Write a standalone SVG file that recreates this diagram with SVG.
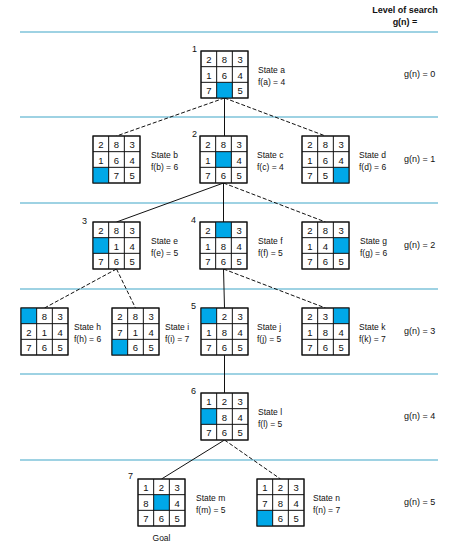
<svg xmlns="http://www.w3.org/2000/svg" width="464" height="547" viewBox="0 0 464 547">
<style>
text{font-family:"Liberation Sans",Arial,sans-serif;fill:#111}
.d{font-size:9.5px;text-anchor:middle}
.lb{font-size:8.5px}
.g{font-size:9px}
.n{font-size:9px}
.h{font-size:9px;font-weight:bold;text-anchor:middle}
.lv{stroke:#3fa6c8;stroke-width:1.2}
.box{fill:#fff;stroke:#111;stroke-width:1}
.bl{fill:#00a8e8}
.cl{stroke:#111;stroke-width:1}
.s{stroke:#111;stroke-width:1;fill:none}
.ds{stroke:#111;stroke-width:1;fill:none;stroke-dasharray:4,2}
</style>
<defs>
<g id="grid">
<rect class="box" x="0" y="0" width="47" height="47"/>
</g>
<g id="glines">
<line class="cl" x1="15.67" y1="0" x2="15.67" y2="47"/>
<line class="cl" x1="31.33" y1="0" x2="31.33" y2="47"/>
<line class="cl" x1="0" y1="15.67" x2="47" y2="15.67"/>
<line class="cl" x1="0" y1="31.33" x2="47" y2="31.33"/>
<rect x="0" y="0" width="47" height="47" fill="none" stroke="#111"/>
</g>
</defs>
<g id="levels">
<text class="h" x="405" y="13">Level of search</text>
<text class="h" x="405" y="25">g(n) =</text>
<line class="lv" x1="20" y1="32" x2="438" y2="32"/>
<line class="lv" x1="20" y1="117" x2="438" y2="117"/>
<line class="lv" x1="20" y1="203" x2="438" y2="203"/>
<line class="lv" x1="20" y1="289" x2="438" y2="289"/>
<line class="lv" x1="20" y1="374" x2="438" y2="374"/>
<line class="lv" x1="20" y1="460" x2="438" y2="460"/>
<text class="g" x="404" y="77">g(n) = 0</text>
<text class="g" x="404" y="162">g(n) = 1</text>
<text class="g" x="404" y="248">g(n) = 2</text>
<text class="g" x="404" y="334">g(n) = 3</text>
<text class="g" x="404" y="419">g(n) = 4</text>
<text class="g" x="404" y="505">g(n) = 5</text>
</g>
<g id="connectors">
<line class="ds" x1="224.5" y1="98" x2="116.5" y2="136"/>
<line class="s" x1="224.5" y1="98" x2="224.5" y2="136"/>
<line class="ds" x1="224.5" y1="98" x2="325.5" y2="136"/>
<line class="s" x1="223.5" y1="183" x2="116.5" y2="222"/>
<line class="s" x1="223.5" y1="183" x2="223.5" y2="222"/>
<line class="ds" x1="223.5" y1="183" x2="325.5" y2="222"/>
<line class="ds" x1="116.5" y1="269" x2="44.5" y2="308"/>
<line class="ds" x1="116.5" y1="269" x2="135.5" y2="308"/>
<line class="s" x1="223.5" y1="269" x2="224.5" y2="308"/>
<line class="ds" x1="223.5" y1="269" x2="325.5" y2="308"/>
<line class="s" x1="224.5" y1="355" x2="224.5" y2="393"/>
<line class="s" x1="224.5" y1="440" x2="161.5" y2="479"/>
<line class="ds" x1="224.5" y1="440" x2="280.5" y2="479"/>
</g>
<g id="state-a" transform="translate(201,51)">
<use href="#grid"/><rect class="bl" x="15.67" y="31.33" width="15.67" height="15.67"/><use href="#glines"/>
<text class="d" x="7.8" y="12">2</text><text class="d" x="23.5" y="12">8</text><text class="d" x="39.2" y="12">3</text>
<text class="d" x="7.8" y="27.6">1</text><text class="d" x="23.5" y="27.6">6</text><text class="d" x="39.2" y="27.6">4</text>
<text class="d" x="7.8" y="43.3">7</text><text class="d" x="39.2" y="43.3">5</text>
<text class="n" x="-9" y="1">1</text>
<text class="lb" x="57" y="22">State a</text><text class="lb" x="57" y="34">f(a) = 4</text>
</g>
<g id="state-b" transform="translate(93,136)">
<use href="#grid"/><rect class="bl" x="0" y="31.33" width="15.67" height="15.67"/><use href="#glines"/>
<text class="d" x="7.8" y="12">2</text><text class="d" x="23.5" y="12">8</text><text class="d" x="39.2" y="12">3</text>
<text class="d" x="7.8" y="27.6">1</text><text class="d" x="23.5" y="27.6">6</text><text class="d" x="39.2" y="27.6">4</text>
<text class="d" x="23.5" y="43.3">7</text><text class="d" x="39.2" y="43.3">5</text>
<text class="lb" x="58" y="22">State b</text><text class="lb" x="58" y="34">f(b) = 6</text>
</g>
<g id="state-c" transform="translate(200,136)">
<use href="#grid"/><rect class="bl" x="15.67" y="15.67" width="15.67" height="15.67"/><use href="#glines"/>
<text class="d" x="7.8" y="12">2</text><text class="d" x="23.5" y="12">8</text><text class="d" x="39.2" y="12">3</text>
<text class="d" x="7.8" y="27.6">1</text><text class="d" x="39.2" y="27.6">4</text>
<text class="d" x="7.8" y="43.3">7</text><text class="d" x="23.5" y="43.3">6</text><text class="d" x="39.2" y="43.3">5</text>
<text class="n" x="-8" y="1">2</text>
<text class="lb" x="57" y="22">State c</text><text class="lb" x="57" y="34">f(c) = 4</text>
</g>
<g id="state-d" transform="translate(302,136)">
<use href="#grid"/><rect class="bl" x="31.33" y="31.33" width="15.67" height="15.67"/><use href="#glines"/>
<text class="d" x="7.8" y="12">2</text><text class="d" x="23.5" y="12">8</text><text class="d" x="39.2" y="12">3</text>
<text class="d" x="7.8" y="27.6">1</text><text class="d" x="23.5" y="27.6">6</text><text class="d" x="39.2" y="27.6">4</text>
<text class="d" x="7.8" y="43.3">7</text><text class="d" x="23.5" y="43.3">5</text>
<text class="lb" x="57" y="22">State d</text><text class="lb" x="57" y="34">f(d) = 6</text>
</g>
<g id="state-e" transform="translate(93,222)">
<use href="#grid"/><rect class="bl" x="0" y="15.67" width="15.67" height="15.67"/><use href="#glines"/>
<text class="d" x="7.8" y="12">2</text><text class="d" x="23.5" y="12">8</text><text class="d" x="39.2" y="12">3</text>
<text class="d" x="23.5" y="27.6">1</text><text class="d" x="39.2" y="27.6">4</text>
<text class="d" x="7.8" y="43.3">7</text><text class="d" x="23.5" y="43.3">6</text><text class="d" x="39.2" y="43.3">5</text>
<text class="n" x="-11" y="2">3</text>
<text class="lb" x="58" y="22">State e</text><text class="lb" x="58" y="34">f(e) = 5</text>
</g>
<g id="state-f" transform="translate(200,222)">
<use href="#grid"/><rect class="bl" x="15.67" y="0" width="15.67" height="15.67"/><use href="#glines"/>
<text class="d" x="7.8" y="12">2</text><text class="d" x="39.2" y="12">3</text>
<text class="d" x="7.8" y="27.6">1</text><text class="d" x="23.5" y="27.6">8</text><text class="d" x="39.2" y="27.6">4</text>
<text class="d" x="7.8" y="43.3">7</text><text class="d" x="23.5" y="43.3">6</text><text class="d" x="39.2" y="43.3">5</text>
<text class="n" x="-9" y="1">4</text>
<text class="lb" x="58" y="22">State f</text><text class="lb" x="58" y="34">f(f) = 5</text>
</g>
<g id="state-g" transform="translate(302,222)">
<use href="#grid"/><rect class="bl" x="31.33" y="15.67" width="15.67" height="15.67"/><use href="#glines"/>
<text class="d" x="7.8" y="12">2</text><text class="d" x="23.5" y="12">8</text><text class="d" x="39.2" y="12">3</text>
<text class="d" x="7.8" y="27.6">1</text><text class="d" x="23.5" y="27.6">4</text>
<text class="d" x="7.8" y="43.3">7</text><text class="d" x="23.5" y="43.3">6</text><text class="d" x="39.2" y="43.3">5</text>
<text class="lb" x="58" y="22">State g</text><text class="lb" x="58" y="34">f(g) = 6</text>
</g>
<g id="state-h" transform="translate(21,308)">
<use href="#grid"/><rect class="bl" x="0" y="0" width="15.67" height="15.67"/><use href="#glines"/>
<text class="d" x="23.5" y="12">8</text><text class="d" x="39.2" y="12">3</text>
<text class="d" x="7.8" y="27.6">2</text><text class="d" x="23.5" y="27.6">1</text><text class="d" x="39.2" y="27.6">4</text>
<text class="d" x="7.8" y="43.3">7</text><text class="d" x="23.5" y="43.3">6</text><text class="d" x="39.2" y="43.3">5</text>
<text class="lb" x="53" y="22">State h</text><text class="lb" x="53" y="34">f(h) = 6</text>
</g>
<g id="state-i" transform="translate(112,308)">
<use href="#grid"/><rect class="bl" x="0" y="31.33" width="15.67" height="15.67"/><use href="#glines"/>
<text class="d" x="7.8" y="12">2</text><text class="d" x="23.5" y="12">8</text><text class="d" x="39.2" y="12">3</text>
<text class="d" x="7.8" y="27.6">7</text><text class="d" x="23.5" y="27.6">1</text><text class="d" x="39.2" y="27.6">4</text>
<text class="d" x="23.5" y="43.3">6</text><text class="d" x="39.2" y="43.3">5</text>
<text class="lb" x="53" y="22">State i</text><text class="lb" x="53" y="34">f(i) = 7</text>
</g>
<g id="state-j" transform="translate(201,308)">
<use href="#grid"/><rect class="bl" x="0" y="0" width="15.67" height="15.67"/><use href="#glines"/>
<text class="d" x="23.5" y="12">2</text><text class="d" x="39.2" y="12">3</text>
<text class="d" x="7.8" y="27.6">1</text><text class="d" x="23.5" y="27.6">8</text><text class="d" x="39.2" y="27.6">4</text>
<text class="d" x="7.8" y="43.3">7</text><text class="d" x="23.5" y="43.3">6</text><text class="d" x="39.2" y="43.3">5</text>
<text class="n" x="-10" y="1">5</text>
<text class="lb" x="56" y="22">State j</text><text class="lb" x="56" y="34">f(j) = 5</text>
</g>
<g id="state-k" transform="translate(302,308)">
<use href="#grid"/><rect class="bl" x="31.33" y="0" width="15.67" height="15.67"/><use href="#glines"/>
<text class="d" x="7.8" y="12">2</text><text class="d" x="23.5" y="12">3</text>
<text class="d" x="7.8" y="27.6">1</text><text class="d" x="23.5" y="27.6">8</text><text class="d" x="39.2" y="27.6">4</text>
<text class="d" x="7.8" y="43.3">7</text><text class="d" x="23.5" y="43.3">6</text><text class="d" x="39.2" y="43.3">5</text>
<text class="lb" x="57" y="22">State k</text><text class="lb" x="57" y="34">f(k) = 7</text>
</g>
<g id="state-l" transform="translate(201,393)">
<use href="#grid"/><rect class="bl" x="0" y="15.67" width="15.67" height="15.67"/><use href="#glines"/>
<text class="d" x="7.8" y="12">1</text><text class="d" x="23.5" y="12">2</text><text class="d" x="39.2" y="12">3</text>
<text class="d" x="23.5" y="27.6">8</text><text class="d" x="39.2" y="27.6">4</text>
<text class="d" x="7.8" y="43.3">7</text><text class="d" x="23.5" y="43.3">6</text><text class="d" x="39.2" y="43.3">5</text>
<text class="n" x="-10" y="1">6</text>
<text class="lb" x="57" y="22">State l</text><text class="lb" x="57" y="34">f(l) = 5</text>
</g>
<g id="state-m" transform="translate(138,479)">
<use href="#grid"/><rect class="bl" x="15.67" y="15.67" width="15.67" height="15.67"/><use href="#glines"/>
<text class="d" x="7.8" y="12">1</text><text class="d" x="23.5" y="12">2</text><text class="d" x="39.2" y="12">3</text>
<text class="d" x="7.8" y="27.6">8</text><text class="d" x="39.2" y="27.6">4</text>
<text class="d" x="7.8" y="43.3">7</text><text class="d" x="23.5" y="43.3">6</text><text class="d" x="39.2" y="43.3">5</text>
<text class="n" x="-10" y="0">7</text>
<text class="lb" x="58" y="22">State m</text><text class="lb" x="58" y="34">f(m) = 5</text>
<text class="lb" x="23.5" y="62" text-anchor="middle">Goal</text>
</g>
<g id="state-n" transform="translate(257,479)">
<use href="#grid"/><rect class="bl" x="0" y="31.33" width="15.67" height="15.67"/><use href="#glines"/>
<text class="d" x="7.8" y="12">1</text><text class="d" x="23.5" y="12">2</text><text class="d" x="39.2" y="12">3</text>
<text class="d" x="7.8" y="27.6">7</text><text class="d" x="23.5" y="27.6">8</text><text class="d" x="39.2" y="27.6">4</text>
<text class="d" x="23.5" y="43.3">6</text><text class="d" x="39.2" y="43.3">5</text>
<text class="lb" x="56" y="22">State n</text><text class="lb" x="56" y="34">f(n) = 7</text>
</g>
</svg>
